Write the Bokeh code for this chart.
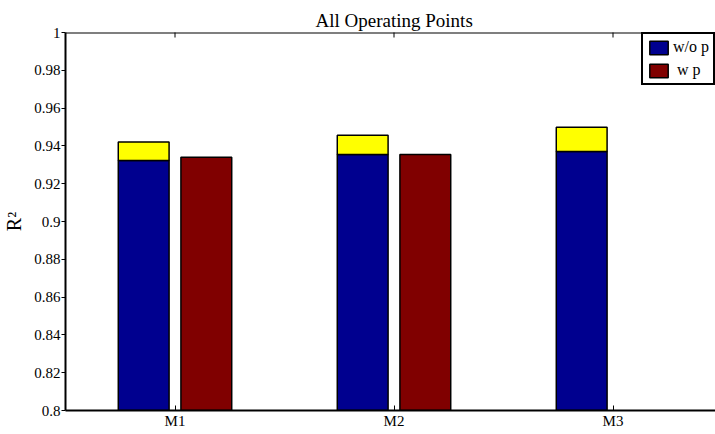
import math
from bokeh.plotting import figure
from bokeh.models import Range1d, FixedTicker, LinearAxis, Legend, LegendItem, ColumnDataSource, Span
from bokeh.embed import file_html
from bokeh.resources import INLINE

categories = ["M1", "M2", "M3"]
wo_p = [0.9323, 0.9354, 0.9370]
wo_p_extra_top = [0.9420, 0.9457, 0.9499]
w_p = [0.9340, 0.9354, None]
y_ticks = [0.8, 0.82, 0.84, 0.86, 0.88, 0.9, 0.92, 0.94, 0.96, 0.98, 1.0]
y_tick_labels = ["0.8", "0.82", "0.84", "0.86", "0.88", "0.9", "0.92", "0.94", "0.96", "0.98", "1"]

FONT = "Liberation Serif"
BLUE = "#00008F"
RED = "#800000"
YELLOW = "#FFFF00"

xpos = [i + 1 for i in range(len(categories))]
offset = 0.143
bw = 0.232

p = figure(width=715, height=434, output_backend="svg", toolbar_location=None,
           x_range=Range1d(0.5, 3.468), y_range=Range1d(0.8, 1.0),
           min_border_left=62, min_border_right=0, min_border_top=32, min_border_bottom=24,
           title="All Operating Points", x_axis_location=None, y_axis_location=None)
p.title.align = "left"
p.title.offset = 250
p.title.text_font = FONT
p.title.text_font_size = "19px"
p.title.text_font_style = "normal"
p.title.text_color = "black"
p.title.standoff = 3
p.xgrid.visible = False
p.ygrid.visible = False
p.outline_line_color = None

src_blue = ColumnDataSource(dict(x=[x - offset for x in xpos], top=wo_p,
                                 top2=wo_p_extra_top, bottom=[0.8] * len(xpos)))
r_blue = p.vbar(x="x", top="top", bottom="bottom", width=bw, source=src_blue,
                fill_color=BLUE, line_color="black", line_width=1.5)
p.vbar(x="x", top="top2", bottom="top", width=bw, source=src_blue,
       fill_color=YELLOW, line_color="black", line_width=1.5)
rx = [x + offset for x, v in zip(xpos, w_p) if v is not None]
rv = [v for v in w_p if v is not None]
r_red = p.vbar(x=rx, top=rv, bottom=0.8, width=bw,
               fill_color=RED, line_color="black", line_width=1.5)

# top box line with inward ticks
p.add_layout(Span(location=1.0, dimension="width", line_color="black", line_width=2))
p.scatter(x=xpos, y=[1.0] * len(xpos), marker="dash", size=10, angle=math.pi / 2,
          line_color="black", line_width=1)

# bottom axis
xa = LinearAxis(ticker=FixedTicker(ticks=xpos),
                major_label_overrides={x: c for x, c in zip(xpos, categories)})
xa.major_tick_in = 5
xa.major_tick_out = 0
xa.minor_tick_line_color = None
xa.axis_line_width = 2
xa.axis_line_color = "black"
xa.major_tick_line_color = "black"
xa.major_tick_line_width = 1
xa.major_label_text_font = FONT
xa.major_label_text_font_size = "15px"
xa.major_label_text_color = "black"
xa.major_label_standoff = 2
p.add_layout(xa, "below")

# left axis
ya = LinearAxis(ticker=FixedTicker(ticks=y_ticks),
                major_label_overrides={t: l for t, l in zip(y_ticks, y_tick_labels)})
ya.major_tick_in = 0
ya.major_tick_out = 4
ya.minor_tick_line_color = None
ya.axis_line_width = 2
ya.axis_line_color = "black"
ya.major_tick_line_color = "black"
ya.major_label_text_font = FONT
ya.major_label_text_font_size = "15px"
ya.major_label_text_color = "black"
ya.major_label_standoff = 1
ya.axis_label = "R²"
ya.axis_label_text_font = FONT
ya.axis_label_text_font_size = "20px"
ya.axis_label_text_font_style = "normal"
ya.axis_label_text_color = "black"
ya.axis_label_standoff = 6
p.add_layout(ya, "left")

legend = Legend(items=[LegendItem(label="w/o p", renderers=[r_blue]),
                       LegendItem(label=" w p", renderers=[r_red])],
                location=(576, 325))
legend.label_text_font = FONT
legend.label_text_font_size = "16px"
legend.label_text_color = "black"
legend.glyph_width = 23
legend.glyph_height = 17
legend.label_standoff = 3
legend.spacing = 5
legend.padding = 4
legend.margin = 0
legend.border_line_color = "black"
legend.border_line_width = 2
legend.border_line_alpha = 1
legend.label_height = 17
p.add_layout(legend, "center")

open("out.html", "w").write(file_html(p, INLINE))
